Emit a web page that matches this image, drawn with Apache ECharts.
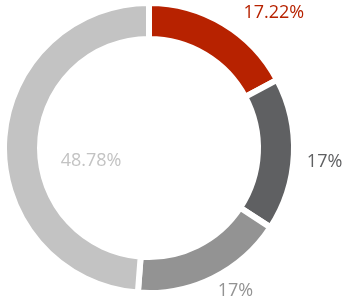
<!DOCTYPE html>
<html>
<head>
<meta charset="utf-8">
<script src="https://cdn.jsdelivr.net/npm/echarts@6/dist/echarts.min.js"></script>
<style>html,body{margin:0;padding:0;background:#fff}#c{width:345px;height:299px}</style>
</head>
<body>
<div id="c"></div>
<script>
var categories = ['A', 'B', 'C', 'D'];
var values = [17.22, 17, 17, 48.78];
var labels = ['17.22%', '17%', '17%', '48.78%'];
var colors = ['#b72200', '#5f6062', '#939393', '#c3c3c3'];

var chart = echarts.init(document.getElementById('c'), null, {renderer: 'canvas'});
var labelOffsets = [[12, 2], [-2, 7], [-2, -1], [72, 18]];
var data = categories.map(function (c, i) {
  var item = {
    name: c,
    value: values[i],
    itemStyle: {color: colors[i]},
    label: {color: colors[i], formatter: labels[i], offset: labelOffsets[i]}
  };
  if (i === 3) { item.label.position = 'inside'; }
  return item;
});
chart.setOption({
  animation: false,
  series: [{
    type: 'pie',
    center: [149, 148],
    radius: [109, 145],
    startAngle: 90,
    clockwise: true,
    avoidLabelOverlap: false,
    itemStyle: {borderColor: '#ffffff', borderWidth: 6},
    label: {
      show: true,
      position: 'outside',
      fontSize: 18,
      fontFamily: 'Open Sans',
      distanceToLabelLine: 0,
      textBorderWidth: 0
    },
    labelLine: {show: false, length: 15, length2: 0},
    emphasis: {disabled: true},
    data: data
  }]
});
</script>
</body>
</html>
